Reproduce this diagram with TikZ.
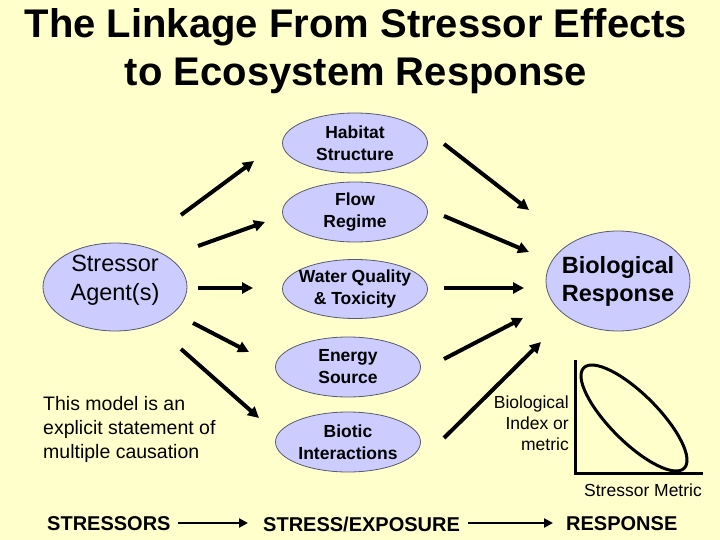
\documentclass[tikz,border=0pt]{standalone}
\usepackage{fontspec}
\setmainfont{Liberation Sans}
\usetikzlibrary{shapes.geometric,arrows.meta}
\definecolor{bg}{RGB}{255,255,204}
\definecolor{ell}{RGB}{204,204,255}
\definecolor{ellline}{RGB}{90,90,110}
\tikzset{
  oval/.style={ellipse, draw=ellline, line width=0.8pt, fill=ell, inner xsep=-20pt, inner ysep=-4pt, align=center,
    font=\fontsize{17.5}{22}\selectfont\bfseries},
  bigarrow/.style={line width=4pt, -{Triangle[length=11pt,width=11pt]}},
  smallarrow/.style={line width=2.6pt, -{Triangle[length=9pt,width=9pt]}},
  plain/.style={inner sep=0pt, align=left}
}
\begin{document}
\begin{tikzpicture}[x=1pt,y=-1pt]
\fill[bg] (0,0) rectangle (720,540);
\useasboundingbox (0,0) rectangle (720,540);
% title
\node[font=\fontsize{40}{48}\selectfont\bfseries, align=center] (title) at (356,51)
  {The Linkage From Stressor Effects\\to Ecosystem Response};
% ellipses
\node[oval, minimum width=144pt, minimum height=88pt] (agent) at (115,287) {};
\node[inner sep=0pt, align=center, font=\fontsize{23.5}{29}\selectfont] (agenttext) at (115,280) {Stressor\\Agent(s)};
\node[oval, minimum width=145pt, minimum height=60pt] (hab) at (355,143) {Habitat\\Structure};
\node[oval, minimum width=145pt, minimum height=60pt] (flow) at (355,212) {Flow\\Regime};
\node[oval, minimum width=145pt, minimum height=59pt] (water) at (355,289) {Water Quality\\\& Toxicity};
\node[oval, minimum width=145pt, minimum height=60pt] (energy) at (348,367) {Energy\\Source};
\node[oval, minimum width=145pt, minimum height=60pt] (biotic) at (348,442) {Biotic\\Interactions};
\node[oval, minimum width=144pt, minimum height=100pt, font=\fontsize{23.5}{28}\selectfont\bfseries] (bio) at (618,281) {Biological\\Response};
% arrow coordinates
\coordinate (l1s) at (181,215); \coordinate (l1e) at (254,161);
\coordinate (l2s) at (198,246); \coordinate (l2e) at (265,222);
\coordinate (l3s) at (198,288); \coordinate (l3e) at (253,288);
\coordinate (l4s) at (193,323); \coordinate (l4e) at (249,352);
\coordinate (l5s) at (181,349); \coordinate (l5e) at (259,418);
\coordinate (r1s) at (444,144); \coordinate (r1e) at (529,210);
\coordinate (r2s) at (444,216); \coordinate (r2e) at (529,252);
\coordinate (r3s) at (444,288); \coordinate (r3e) at (524,288);
\coordinate (r4s) at (444,359); \coordinate (r4e) at (523,318);
\coordinate (r5s) at (444,438); \coordinate (r5e) at (541,342);
\foreach \a in {l1,l2,l3,l4,l5,r1,r2,r3,r4,r5}
  \draw[bigarrow] (\a s) -- (\a e);
% text block
\node[plain, anchor=north west, font=\fontsize{19.5}{24}\selectfont] (model) at (43,396)
  {This model is an\\explicit statement of\\multiple causation};
% graph
\coordinate (ytop) at (575,360);
\coordinate (origin) at (575,473);
\coordinate (xend) at (703,473);
\draw[line width=3pt] (ytop) -- (origin) -- (xend);
\draw[line width=3pt] (634,418) ellipse[x radius=71pt, y radius=24pt, rotate=-45];
\node[inner sep=0pt, align=right, anchor=north east, font=\fontsize{17.5}{21}\selectfont] (yl) at (569,396)
  {Biological\\Index or\\metric};
\node[inner sep=0pt, anchor=center, font=\fontsize{17.5}{20}\selectfont] (xl) at (643,490) {Stressor Metric};
% bottom chain
\node[inner sep=0pt, anchor=west, font=\fontsize{20}{22}\selectfont\bfseries] (s1) at (47,524) {STRESSORS};
\node[inner sep=0pt, anchor=west, font=\fontsize{20}{22}\selectfont\bfseries] (s2) at (263,524) {STRESS/EXPOSURE};
\node[inner sep=0pt, anchor=west, font=\fontsize{20}{22}\selectfont\bfseries] (s3) at (566,524) {RESPONSE};
\coordinate (b1s) at (178,523); \coordinate (b1e) at (248,523);
\coordinate (b2s) at (468,523); \coordinate (b2e) at (553,523);
\draw[smallarrow] (b1s) -- (b1e);
\draw[smallarrow] (b2s) -- (b2e);
\end{tikzpicture}
\end{document}
